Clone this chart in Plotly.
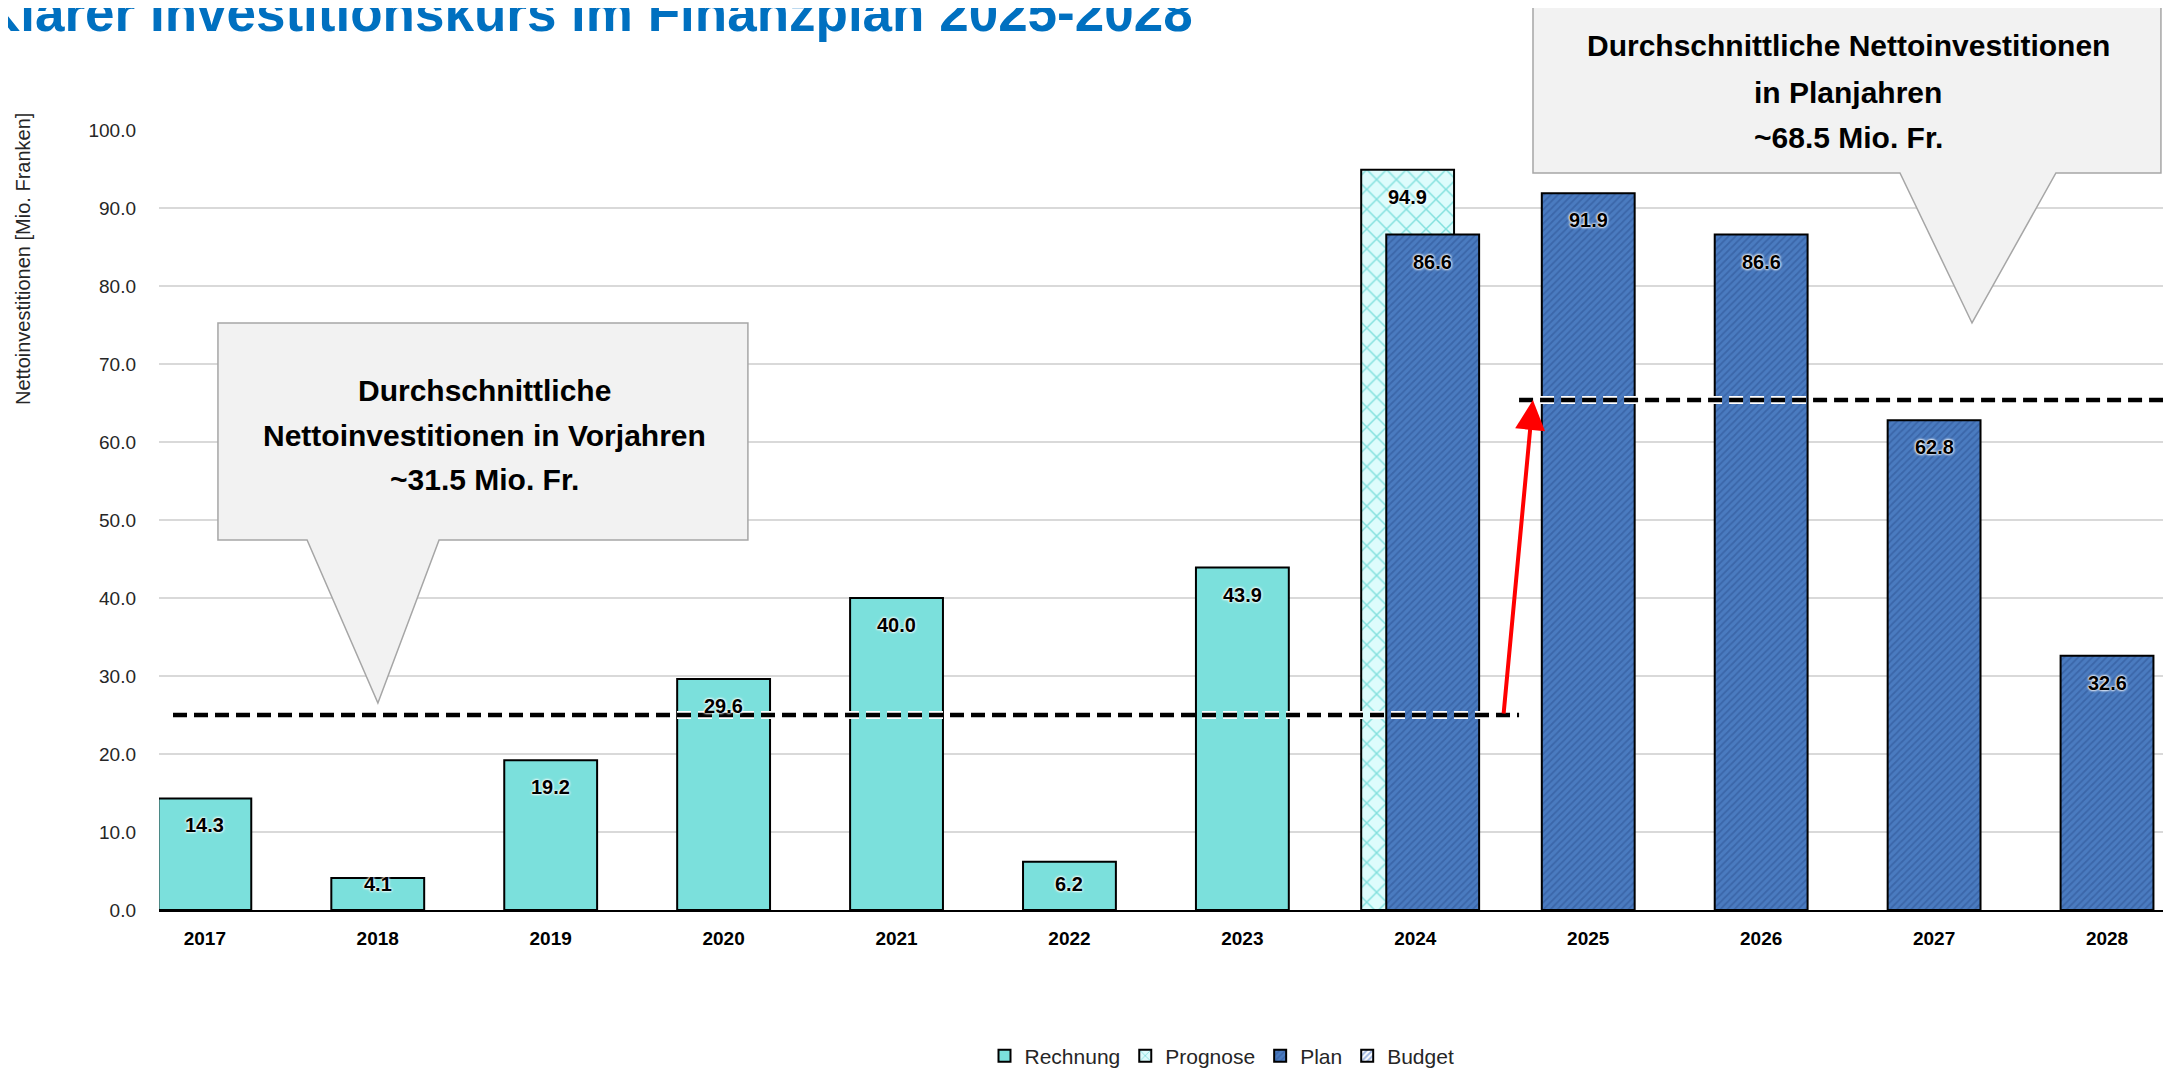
import plotly.graph_objects as go

# Nettoinvestitionen in Mio. Franken
years = ["2017", "2018", "2019", "2020", "2021", "2022", "2023",
         "2024", "2025", "2026", "2027", "2028"]
rechnung = [14.3, 4.1, 19.2, 29.6, 40.0, 6.2, 43.9, None, None, None, None, None]
prognose = [None, None, None, None, None, None, None, 94.9, None, None, None, None]
plan = [None, None, None, None, None, None, None, 86.6, 91.9, 86.6, 62.8, 32.6]
budget = [None] * 12

# average lines as drawn in the chart
avg_vorjahre = 25.0
avg_planjahre = 65.4

# the page body has an 8px margin, so the figure is a bit smaller than the window
PAGE_PAD = 8
W, H = 2171 - PAGE_PAD, 1070 - PAGE_PAD
# plot area in window pixels
PLOT_L, PLOT_R, PLOT_T, PLOT_B = 159, 2171, 130, 910
X_RANGE = [-0.265, 11.37]
BAR_W = 0.537

ARIAL = "Liberation Sans, Arial, sans-serif"
GLOW = "0 0 3px white, 0 0 3px white, 0 0 2px white"

plot_w = PLOT_R - PLOT_L
plot_h = PLOT_B - PLOT_T
step_px = plot_w / (X_RANGE[1] - X_RANGE[0])
unit_px = plot_h / 100.0


def px(x):
    return (x - PLOT_L) / plot_w


def py(y):
    return (PLOT_B - y) / plot_h


def callout_path(x0, y0, x1, y1, b0, b1, tx, ty):
    pts = [(x0, y0), (x1, y0), (x1, y1), (b1, y1), (tx, ty), (b0, y1), (x0, y1)]
    return "M " + " L ".join(f"{px(a):.4f},{py(b):.4f}" for a, b in pts) + " Z"


center_off = -BAR_W / 2
plan_off = [-0.168 if y == "2024" else center_off for y in years]
prog_off = -0.313

fig = go.Figure()
fig.add_trace(go.Bar(
    x=years, y=rechnung, name="Rechnung", width=BAR_W, offset=center_off,
    marker=dict(color="#7BE0DC", line=dict(color="black", width=2)),
))
fig.add_trace(go.Bar(
    x=years, y=prognose, name="Prognose", width=BAR_W, offset=prog_off,
    marker=dict(color="#DDFCFC", line=dict(color="black", width=2),
                pattern=dict(shape="x", bgcolor="#DDFCFC", fgcolor="#27C3BE",
                             size=14, solidity=0.2)),
))
fig.add_trace(go.Bar(
    x=years, y=plan, name="Plan", width=BAR_W, offset=plan_off,
    marker=dict(color="#4A7BC0", line=dict(color="black", width=2),
                pattern=dict(shape="/", bgcolor="#4A7BC0", fgcolor="#2C5291",
                             size=5, solidity=0.35)),
))
fig.add_trace(go.Bar(
    x=years, y=budget, name="Budget", width=BAR_W,
    marker=dict(color="#4472C4", line=dict(color="black", width=2),
                pattern=dict(shape="/", bgcolor="white", fgcolor="#4472C4",
                             size=5, solidity=0.5)),
))

# value labels just inside the top of each bar
annotations = []
for series, offs in ((rechnung, [center_off] * 12), (prognose, [prog_off] * 12), (plan, plan_off)):
    for i, (v, off) in enumerate(zip(series, offs)):
        if v is None:
            continue
        shift = -min(27, v * unit_px - 26)
        annotations.append(dict(
            x=i, y=v, xref="x", yref="y", text=f"{v:.1f}", showarrow=False,
            xanchor="center", yanchor="middle",
            xshift=(off + BAR_W / 2) * step_px, yshift=shift,
            font=dict(family=ARIAL, size=20, color="black", weight="bold", shadow=GLOW),
        ))

# red arrow between the two averages
annotations.append(dict(
    x=7.68, y=avg_planjahre, ax=7.51, ay=avg_vorjahre, xref="x", yref="y",
    axref="x", ayref="y", text="", showarrow=True, arrowhead=2, arrowsize=1.5,
    arrowwidth=4, arrowcolor="#FF0000", standoff=0,
))

# callout texts, one annotation per line
callout_lines = [
    ("Durchschnittliche", 484, 390),
    ("Nettoinvestitionen in Vorjahren", 484, 435),
    ("~31.5 Mio. Fr.", 484, 480),
    ("Durchschnittliche Nettoinvestitionen", 1848, 46),
    ("in Planjahren", 1848, 93),
    ("~68.5 Mio. Fr.", 1848, 138),
]
for txt, cx, cy in callout_lines:
    annotations.append(dict(
        x=px(cx), y=py(cy), xref="paper", yref="paper", showarrow=False,
        xanchor="center", yanchor="middle", text=txt,
        font=dict(family=ARIAL, size=30, color="black", weight="bold"),
    ))

# title (cut at the top edge) and y axis title
annotations.append(dict(
    x=px(-20), y=py(12), xref="paper", yref="paper", xanchor="left", yanchor="middle",
    showarrow=False, text="Klarer Investitionskurs im Finanzplan 2025-2028",
    font=dict(family=ARIAL, size=53, color="#0070C0", weight="bold"),
))
annotations.append(dict(
    x=px(23), y=py(259), xref="paper", yref="paper", textangle=-90, showarrow=False,
    xanchor="center", yanchor="middle",
    text="Nettoinvestitionen [Mio. Franken]",
    font=dict(family=ARIAL, size=20, color="#262626"),
))

dash = "14px,7px"
shapes = [
    dict(type="line", xref="x", yref="y", x0=-0.184, x1=7.6, y0=avg_vorjahre, y1=avg_vorjahre,
         line=dict(color="white", width=8, dash=dash), layer="above"),
    dict(type="line", xref="x", yref="y", x0=-0.184, x1=7.6, y0=avg_vorjahre, y1=avg_vorjahre,
         line=dict(color="black", width=4.5, dash=dash), layer="above"),
    dict(type="line", xref="x", yref="y", x0=7.6, x1=11.45, y0=avg_planjahre, y1=avg_planjahre,
         line=dict(color="white", width=8, dash=dash), layer="above"),
    dict(type="line", xref="x", yref="y", x0=7.6, x1=11.45, y0=avg_planjahre, y1=avg_planjahre,
         line=dict(color="black", width=4.5, dash=dash), layer="above"),
    dict(type="path", xref="paper", yref="paper", layer="above",
         path=callout_path(218, 323, 748, 540, 307, 439, 378, 703),
         fillcolor="#F2F2F2", line=dict(color="#A6A6A6", width=1.5)),
    dict(type="path", xref="paper", yref="paper", layer="above",
         path=callout_path(1533, 5, 2161, 173, 1900, 2056, 1972, 323),
         fillcolor="#F2F2F2", line=dict(color="#A6A6A6", width=1.5)),
]

fig.update_layout(
    width=W, height=H,
    margin=dict(l=PLOT_L - PAGE_PAD, r=0, t=PLOT_T - PAGE_PAD, b=H - (PLOT_B - PAGE_PAD)),
    paper_bgcolor="white", plot_bgcolor="white",
    barmode="overlay",
    showlegend=True,
    # legend placed in container coordinates so it does not push the margins
    legend=dict(orientation="h", xref="container", yref="container",
                x=(1222 - PAGE_PAD) / W, y=1 - (1056 - PAGE_PAD) / H,
                xanchor="center", yanchor="middle",
                font=dict(family=ARIAL, size=21, color="#262626"), itemwidth=30,
                traceorder="normal"),
    annotations=annotations,
    shapes=shapes,
    hovermode=False,
)
fig.update_xaxes(
    type="category", categoryorder="array", categoryarray=years, range=X_RANGE,
    showgrid=False, showline=True, linecolor="black", linewidth=2, ticks="",
    tickfont=dict(family=ARIAL, size=19, color="black", weight="bold"),
    ticklabelstandoff=10, automargin=False,
)
fig.update_yaxes(
    range=[0, 100], dtick=10, tickformat=".1f", showline=False, zeroline=False,
    gridcolor="#D9D9D9", gridwidth=2, ticks="", ticklabelstandoff=22,
    tickfont=dict(family=ARIAL, size=19, color="#262626"), automargin=False,
)

fig.write_html("out.html", config={"displayModeBar": False})
